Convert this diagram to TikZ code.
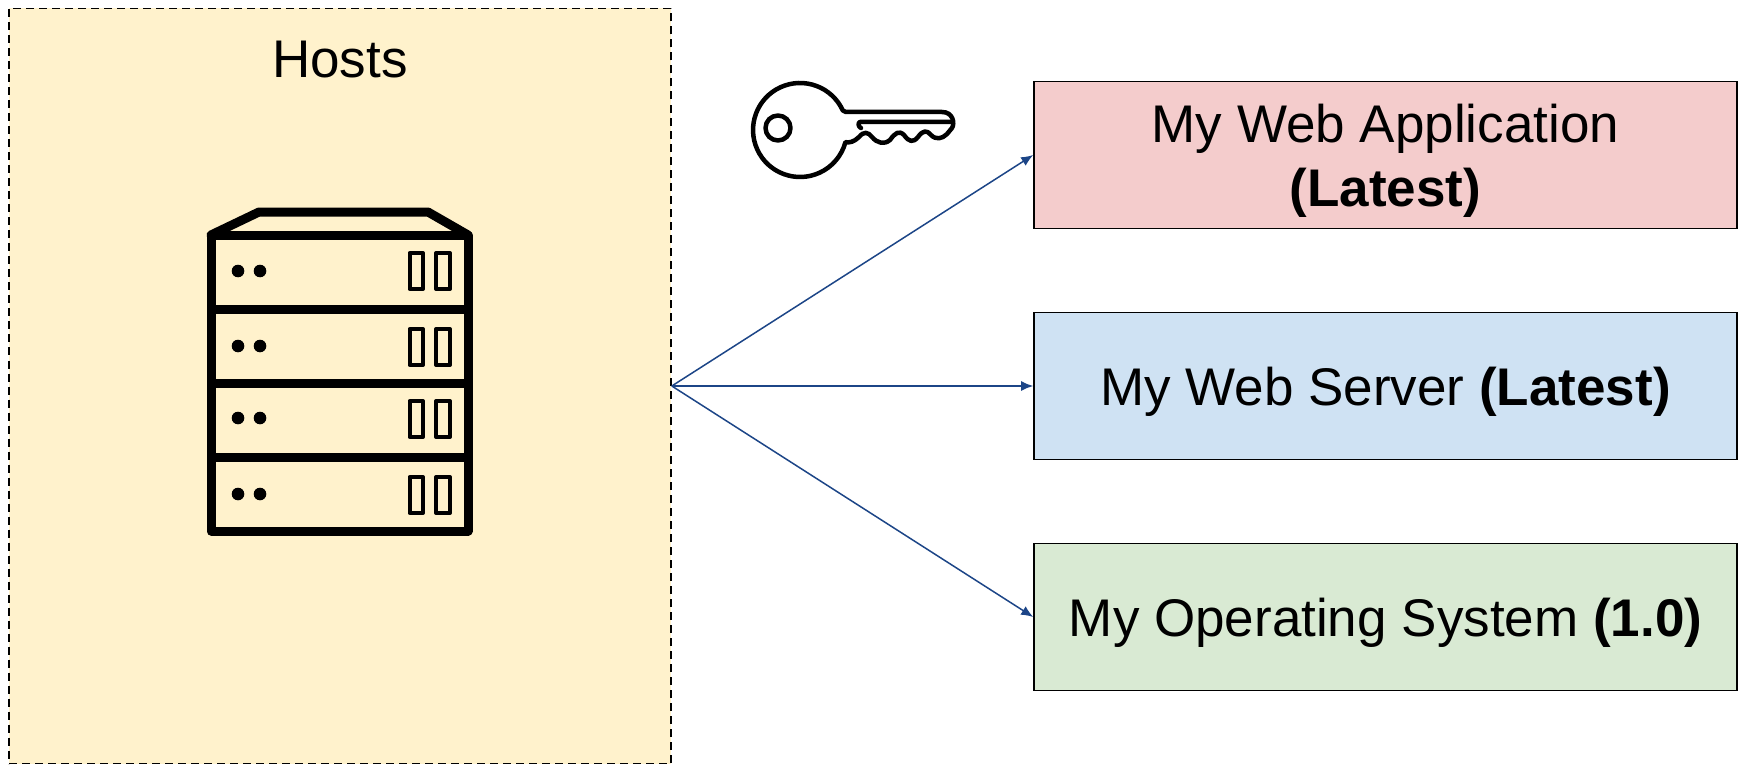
\documentclass[tikz,border=0pt]{standalone}
\usepackage{fontspec}
\setmainfont{Liberation Sans}
\usepackage{tikz}
\usetikzlibrary{arrows.meta}
\definecolor{HostsFill}{RGB}{255,242,204}
\definecolor{AppFill}{RGB}{244,204,204}
\definecolor{ServerFill}{RGB}{207,226,243}
\definecolor{OsFill}{RGB}{217,234,211}
\definecolor{LinkColor}{RGB}{28,69,135}

\begin{document}
\begin{tikzpicture}[x=1pt,y=-1pt,lbl/.style={font=\fontsize{53}{64}\selectfont,align=center,text depth=0pt,text height=#1},lbl/.default=40pt,swbox/.style 2 args={draw=black,line width=1.6pt,fill=#1,minimum width=703pt,minimum height=147pt,inner sep=0pt,lbl=#2},link/.style={draw=LinkColor,line width=1.5pt,-{Latex[length=12pt,width=10pt]}},icon/.style={draw=black,line join=round,line cap=round}]
\useasboundingbox (0,0) rectangle (1741,765);
\node[draw=black,dashed,dash pattern=on 8pt off 5pt,line width=1.6pt,fill=HostsFill,minimum width=662pt,minimum height=755pt,inner sep=0pt](hosts) at(340,386) {};
\node[lbl](hostsname) at(340,58) {Hosts};
\node[swbox={AppFill}{104pt}](app) at(1385.5,155) {My Web Application\\\textbf{(Latest)}};
\node[swbox={ServerFill}{39pt}](server) at(1385.5,386) {My Web Server \textbf{(Latest)}};
\node[swbox={OsFill}{39pt}](os) at(1385.5,617) {My Operating System \textbf{(1.0)}};
\foreach \1 in {app,server,os} {
   \draw[link] (hosts.east) -- (\1.west);
}
% server icon
\draw[icon,line width=9pt] (211,235) -- (259,212) -- (428,212) -- (468,235);
\draw[icon,line width=9pt] (211,235) rectangle (468,531);
\foreach \y in {309,383,457} {
   \draw[icon,line width=9pt,line cap=butt] (211,\y) -- (468,\y);
}
\foreach \y/\1 in {271/253,346/329,418/401,494/477} {
   \fill (238,\y) circle (6.3pt);
   \fill (260,\y) circle (6.3pt);
   \draw[icon,line width=4pt] (409.5,\1) rectangle (423,\1+36);
   \draw[icon,line width=4pt] (436,\1) rectangle (450,\1+36);
}
% key icon
\draw[icon,line width=4.5pt] (842.8,110.5) arc[start angle=-24.5,end angle=-345,radius=47] .. controls (849,143) and (854,142) .. (859,137) .. controls (864,131) and (868,132) .. (872,137) .. controls (877,143) and (884,145) .. (890,140) .. controls (895,133) and (899,130) .. (904,135) .. controls (909,142) and (913,143) .. (918,137) .. controls (923,130) and (927,130) .. (931,135) .. controls (936,140) and (942,139) .. (947,134) -- (952,128) .. controls (955,123) and (953,112) .. (942,112) -- (846,112) -- cycle;
\draw[icon,line width=4.5pt] (778,128) circle (12.5pt);
\draw[icon,line width=4.5pt] (951,122) -- (860,122) .. controls (858,122) and (858,127) .. (861,128);
\end{tikzpicture}
\end{document}
